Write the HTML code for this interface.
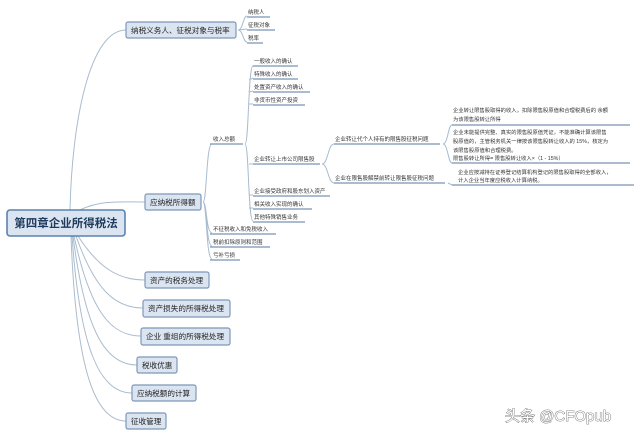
<!DOCTYPE html>
<html><head><meta charset="utf-8"><style>
html,body{margin:0;padding:0;background:#fff;}
svg{display:block;font-family:"Liberation Sans","Noto Sans CJK SC",sans-serif;}
.b{fill:#dbe5f1;stroke:#7e98b8;stroke-width:1.2;}
.t{font-size:7.6px;fill:#222;}
.s{font-size:5.5px;fill:#333;}
.x{font-size:5.3px;fill:#333;}
.u{stroke:#5a7aa0;stroke-width:1;}
.c{fill:none;stroke:#a9bccf;stroke-width:1;}
</style></head><body>
<svg width="640" height="436" viewBox="0 0 640 436">
<path class="c" d="M70 210 C72 120 90 30 126 30"/>
<path class="c" d="M80 210 C100 200 120 202 145 202"/>
<path class="c" d="M78 236 C100 270 120 280 145 280"/>
<path class="c" d="M76 236 C95 290 115 308 143 308"/>
<path class="c" d="M74 236 C90 310 110 336 141 336"/>
<path class="c" d="M73 236 C85 330 105 365 137 365"/>
<path class="c" d="M72 236 C80 350 100 393 132 393"/>
<path class="c" d="M71 236 C76 370 95 421 126 421"/>
<path class="c" d="M238 30 C243 30 243 16 247 16 M238 30 L247 29 M238 30 C243 30 243 42 247 42"/>
<path class="c" d="M203 202 C207 202 206 144 212 144 M203 202 C207 202 206 233 212 233 M203 202 C207 202 206 246 212 246 M203 202 C207 202 206 259 212 259"/>
<path class="c" d="M245 144 C249 144 248 66 253 66 M245 144 C249 144 248 221 253 221 M249 80 L253 78 M249 92 L253 91 M249 104 L253 104 M249 164 L253 164 M249 195 L253 195 M249 208 L253 208"/>
<path class="c" d="M322 164 C328 164 328 144 334 144 M322 164 C328 164 328 183 334 183"/>
<path class="c" d="M443 144 C448 144 448 125 452 125 M443 144 C448 144 448 163 452 163"/>
<path class="c" d="M448 183 L452 185"/>
<rect x="7" y="210" width="118" height="26" rx="3" class="b" style="stroke:#5b82b0;stroke-width:1.6"/>
<text x="66" y="227" text-anchor="middle" style="font-size:11.5px;font-weight:bold;fill:#1f3a5c">第四章企业所得税法</text>
<rect x="126" y="22" width="110" height="16" rx="2" class="b"/><text class="t" x="131" y="33">纳税义务人、征税对象与税率</text>
<rect x="145" y="194" width="56" height="16" rx="2" class="b"/><text class="t" x="150" y="205">应纳税所得额</text>
<rect x="145" y="272" width="64" height="16" rx="2" class="b"/><text class="t" x="150" y="283">资产的税务处理</text>
<rect x="143" y="300" width="87" height="17" rx="2" class="b"/><text class="t" x="148" y="311">资产损失的所得税处理</text>
<rect x="141" y="328" width="89" height="17" rx="2" class="b"/><text class="t" x="146" y="339">企业 重组的所得税处理</text>
<rect x="137" y="357" width="40" height="16" rx="2" class="b"/><text class="t" x="142" y="368">税收优惠</text>
<rect x="132" y="385" width="64" height="16" rx="2" class="b"/><text class="t" x="137" y="396">应纳税额的计算</text>
<rect x="126" y="413" width="40" height="16" rx="2" class="b"/><text class="t" x="131" y="424">征收管理</text>
<g class="s">
<text x="248" y="14">纳税人</text><text x="248" y="27">征税对象</text><text x="248" y="40">税率</text>
<text x="213" y="141">收入总额</text>
<text x="254" y="63">一般收入的确认</text><text x="254" y="76">特殊收入的确认</text><text x="254" y="89">处置资产收入的确认</text><text x="254" y="102">非货币性资产投资</text>
<text x="254" y="161">企业转让上市公司限售股</text>
<text x="254" y="193">企业接受政府和股东划入资产</text><text x="254" y="206">相关收入实现的确认</text><text x="254" y="219">其他特殊销售业务</text>
<text x="335" y="141">企业转让代个人持有的限售股征税问题</text>
<text x="335" y="180">企业在限售股解禁前转让限售股征税问题</text>
<text x="213" y="231">不征税收入和免税收入</text><text x="213" y="244">税前扣除原则和范围</text><text x="213" y="257">亏补亏损</text>
</g>
<g class="x">
<text x="453" y="112">企业转让限售股取得的收入，扣除限售股原值和合理税费后的 余额</text>
<text x="453" y="121">为该限售股转让所得</text>
<text x="453" y="134">企业未能提供完整、真实的限售股原值凭证，不能准确计算该限售</text>
<text x="453" y="143">股原值的，主管税务机关一律按该限售股转让收入的 15%，核定为</text>
<text x="453" y="152">该限售股原值和合理税费。</text>
<text x="453" y="160">限售股转让所得= 限售股转让收入×（1 - 15%）</text>
<text x="458" y="174">企业应按减持在证券登记结算机构登记的限售股取得的全部收入，</text>
<text x="458" y="182">计入企业当年度应税收入计算纳税。</text>
</g>
<g class="u">
<line x1="247" y1="17" x2="270" y2="17"/><line x1="247" y1="30" x2="275" y2="30"/><line x1="247" y1="43" x2="263" y2="43"/>
<line x1="210" y1="144" x2="243" y2="144"/>
<line x1="253" y1="66" x2="298" y2="66"/><line x1="253" y1="79" x2="298" y2="79"/><line x1="253" y1="92" x2="310" y2="92"/><line x1="253" y1="105" x2="305" y2="105"/>
<line x1="253" y1="164" x2="320" y2="164"/>
<line x1="253" y1="196" x2="330" y2="196"/><line x1="253" y1="209" x2="312" y2="209"/><line x1="253" y1="222" x2="305" y2="222"/>
<line x1="334" y1="144" x2="440" y2="144"/><line x1="334" y1="183" x2="445" y2="183"/>
<line x1="452" y1="125" x2="630" y2="125"/><line x1="452" y1="163" x2="630" y2="163"/><line x1="452" y1="185" x2="634" y2="185"/>
<line x1="210" y1="234" x2="276" y2="234"/><line x1="210" y1="247" x2="270" y2="247"/><line x1="210" y1="260" x2="240" y2="260"/>
</g>
<text x="505" y="421" style="font-size:15px;fill:#fff;stroke:#666;stroke-width:0.8;paint-order:stroke">头条 @CFOpub</text>
</svg>
</body></html>
